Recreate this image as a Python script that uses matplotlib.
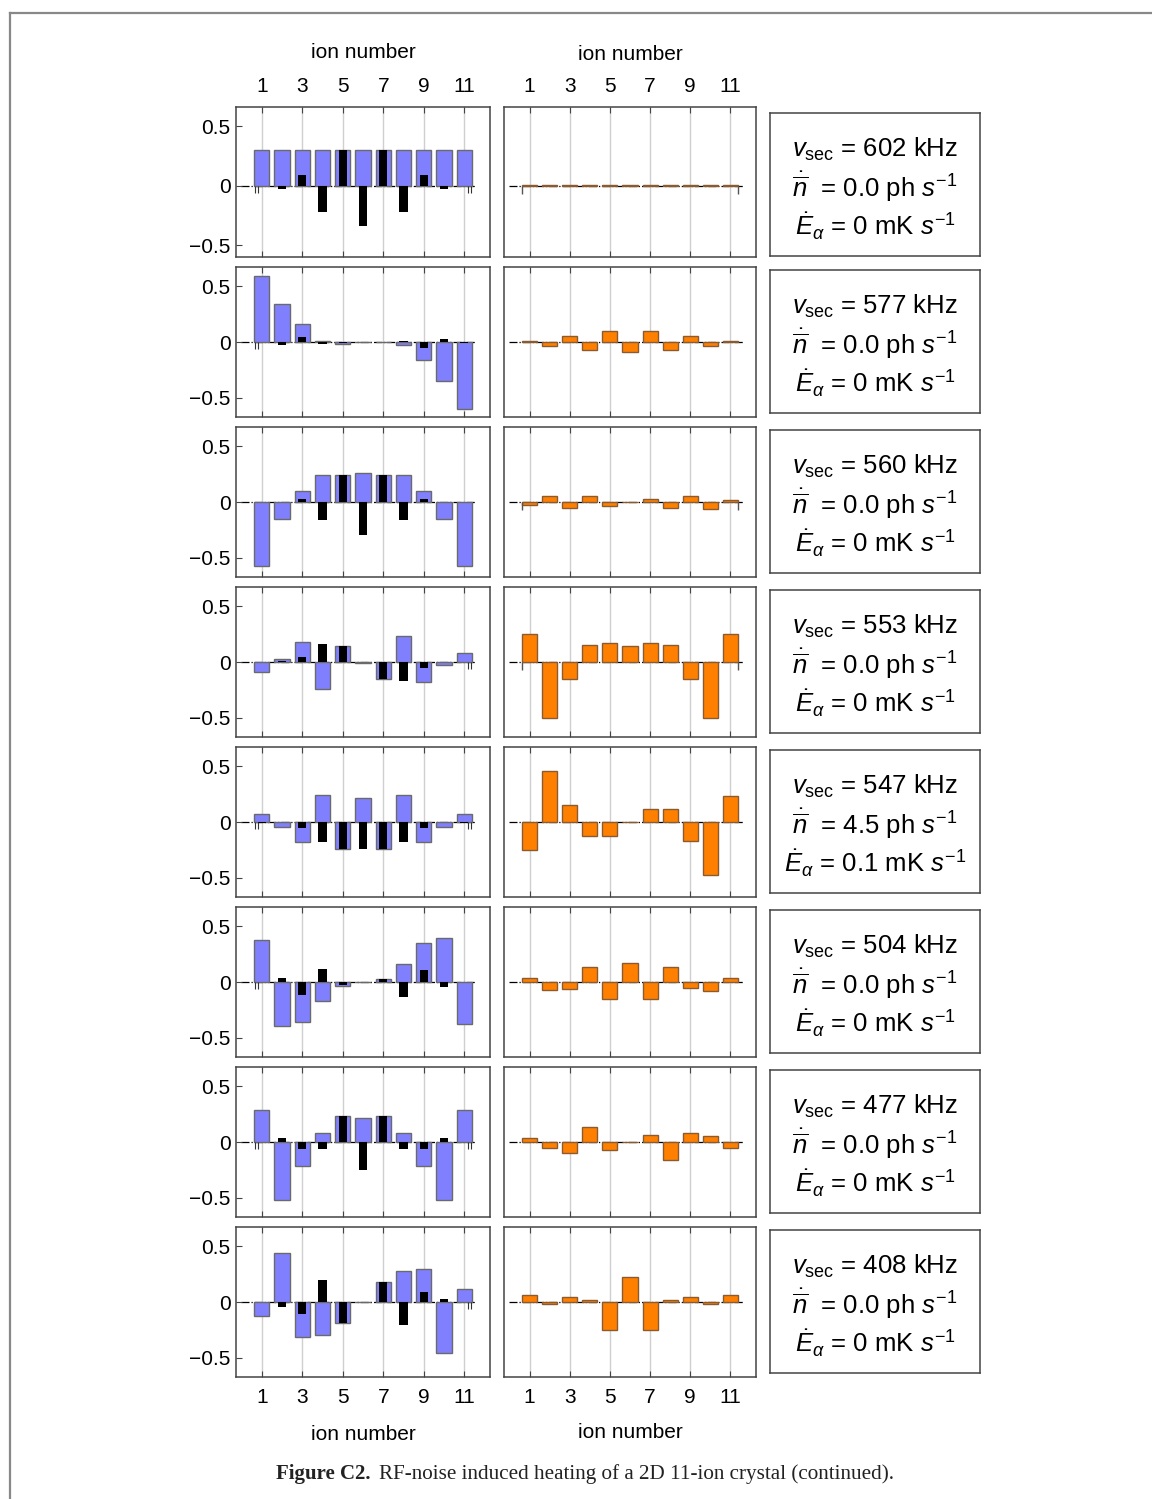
import matplotlib
matplotlib.use("Agg")
import matplotlib.pyplot as plt
from matplotlib.lines import Line2D
import numpy as np

plt.rcParams['font.family'] = ['Liberation Sans', 'DejaVu Sans']
plt.rcParams['mathtext.fontset'] = 'custom'
plt.rcParams['mathtext.rm'] = 'Liberation Sans'
plt.rcParams['mathtext.it'] = 'Liberation Sans:italic'
plt.rcParams['mathtext.bf'] = 'Liberation Sans:bold'

ions = np.arange(1, 12)

# blue = mode vector (radial), black = overlay component, one row per mode
blue_modes = [
    [0.30, 0.30, 0.30, 0.30, 0.30, 0.30, 0.30, 0.30, 0.30, 0.30, 0.30],
    [0.59, 0.343, 0.161, 0.012, -0.015, -0.003, 0.003, -0.027, -0.164, -0.349, -0.60],
    [-0.573, -0.152, 0.10, 0.239, 0.242, 0.263, 0.242, 0.239, 0.10, -0.152, -0.573],
    [-0.087, 0.024, 0.176, -0.239, 0.143, -0.005, -0.155, 0.233, -0.182, -0.03, 0.078],
    [0.075, -0.045, -0.176, 0.245, -0.242, 0.218, -0.242, 0.242, -0.176, -0.045, 0.075],
    [0.376, -0.397, -0.358, -0.173, -0.033, 0.0, 0.024, 0.164, 0.349, 0.39, -0.379],
    [0.287, -0.52, -0.215, 0.078, 0.236, 0.215, 0.236, 0.078, -0.215, -0.52, 0.287],
    [-0.125, 0.442, -0.31, -0.293, -0.185, 0.0, 0.176, 0.278, 0.30, -0.454, 0.119],
]
black_modes = [
    [0.0, -0.025, 0.09, -0.22, 0.30, -0.336, 0.30, -0.22, 0.09, -0.025, 0.0],
    [0.0, -0.03, 0.048, -0.02, -0.01, 0.0, 0.0, 0.012, -0.05, 0.024, -0.005],
    [0.0, 0.003, 0.03, -0.16, 0.242, -0.30, 0.242, -0.16, 0.03, 0.003, 0.0],
    [0.0, 0.01, 0.045, 0.158, 0.143, 0.0, -0.155, -0.167, -0.057, 0.0, 0.0],
    [-0.005, 0.0, -0.057, -0.179, -0.242, -0.242, -0.242, -0.176, -0.057, 0.0, -0.005],
    [0.0, 0.033, -0.119, 0.12, -0.027, 0.0, 0.024, -0.131, 0.11, -0.042, 0.0],
    [0.0, 0.036, -0.066, -0.06, 0.236, -0.248, 0.236, -0.06, -0.066, 0.036, 0.0],
    [0.0, -0.042, -0.104, 0.197, -0.185, 0.0, 0.176, -0.203, 0.09, 0.03, 0.0],
]
orange_modes = [
    [0.004, 0.003, 0.003, 0.003, 0.003, 0.003, 0.003, 0.003, 0.003, 0.003, 0.003],
    [0.012, -0.035, 0.055, -0.07, 0.10, -0.09, 0.10, -0.07, 0.055, -0.035, 0.012],
    [-0.024, 0.057, -0.054, 0.051, -0.039, 0.0, 0.03, -0.051, 0.051, -0.063, 0.021],
    [0.251, -0.501, -0.155, 0.152, 0.170, 0.146, 0.170, 0.152, -0.155, -0.501, 0.251],
    [-0.25, 0.457, 0.152, -0.125, -0.125, 0.0, 0.117, 0.117, -0.17, -0.475, 0.233],
    [0.036, -0.07, -0.06, 0.134, -0.15, 0.17, -0.15, 0.134, -0.054, -0.08, 0.036],
    [0.036, -0.054, -0.10, 0.134, -0.07, 0.0, 0.063, -0.16, 0.08, 0.054, -0.054],
    [0.063, -0.018, 0.045, 0.018, -0.25, 0.224, -0.25, 0.018, 0.045, -0.018, 0.063],
]
freqs = [602, 577, 560, 553, 547, 504, 477, 408]
nbar_dot = ['0.0', '0.0', '0.0', '0.0', '4.5', '0.0', '0.0', '0.0']
e_dot = ['0', '0', '0', '0', '0.1', '0', '0', '0']
ylims = [(-0.60, 0.664)] + [(-0.672, 0.672)] * 7
# little stray marks near ion 1 / ion 11 in the left column
stray_left = [(True, True), (True, False), (False, False), (False, True),
              (True, True), (True, False), (True, True), (False, True)]

W, H = 1152, 1499
fig = plt.figure(figsize=(W / 100, H / 100), dpi=100)

spine_col = '#444444'


def style_ax(ax, r, left_col):
    ax.set_xlim(-0.27, 12.27)
    ax.set_ylim(*ylims[r])
    ax.set_xticks([1, 3, 5, 7, 9, 11])
    if left_col:
        ax.set_yticks([-0.5, 0, 0.5])
        ax.set_yticklabels(['\u22120.5', '0', '0.5'])
    else:
        ax.set_yticks([])
    for x in [1, 3, 5, 7, 9, 11]:
        ax.axvline(x, color='#cfcfcf', lw=1, zorder=0)
    ax.plot([0, 11.6], [0, 0], color='k', ls='-.', lw=0.9, zorder=1)
    ax.tick_params(axis='x', direction='in', top=True, bottom=True, length=4,
                   labeltop=(r == 0), labelbottom=(r == 7), labelsize=15, pad=8,
                   color=spine_col)
    ax.tick_params(axis='y', direction='in', left=True, right=False, length=4,
                   labelsize=15, pad=4, color=spine_col)
    for s in ax.spines.values():
        s.set_color(spine_col)
        s.set_linewidth(1.1)


for r in range(8):
    top = 107 + 160 * r
    bottom = 1 - (top + 150) / H

    ax1 = fig.add_axes([236 / W, bottom, 254 / W, 150 / H])
    style_ax(ax1, r, True)
    ax1.bar(ions, blue_modes[r], width=0.75, color='#8080ff', edgecolor='#6a6a6a',
            lw=1, zorder=2)
    ax1.bar(ions, black_modes[r], width=0.4, color='black', zorder=3)
    lft, rgt = stray_left[r]
    if lft:
        ax1.vlines([0.67, 0.8], -0.06, 0, color='#333333', lw=0.8, zorder=3)
    if rgt:
        ax1.vlines([11.2, 11.33], -0.06, 0, color='#333333', lw=0.8, zorder=3)

    ax2 = fig.add_axes([504 / W, bottom, 252 / W, 150 / H])
    style_ax(ax2, r, False)
    ax2.bar(ions, orange_modes[r], width=0.75, color='#ff8000', edgecolor='#8a5a30',
            lw=1, zorder=2)
    if r in (0, 2, 3):
        ax2.vlines([0.65, 11.35], -0.07, 0, color='#555555', lw=1, zorder=3)

    bt = top + 6 if r == 0 else top + 3
    ax3 = fig.add_axes([770 / W, 1 - (bt + 143) / H, 210 / W, 143 / H])
    ax3.set_xticks([])
    ax3.set_yticks([])
    for s in ax3.spines.values():
        s.set_color(spine_col)
        s.set_linewidth(1.1)
    ax3.text(0.5, 0.745, r'$v_{\rm sec}$ = %d kHz' % freqs[r], ha='center',
             va='center', fontsize=18.5, transform=ax3.transAxes)
    ax3.text(0.5, 0.48, r'$\dot{\overline{n}}$  = %s ph $s^{-1}$' % nbar_dot[r],
             ha='center', va='center', fontsize=18.5, transform=ax3.transAxes)
    ax3.text(0.5, 0.205, r'$\dot{E}_{\alpha}$ = %s mK $s^{-1}$' % e_dot[r],
             ha='center', va='center', fontsize=18.5, transform=ax3.transAxes)

fig.text(363 / W, 1 - 52 / H, 'ion number', ha='center', va='center', fontsize=15)
fig.text(630 / W, 1 - 55 / H, 'ion number', ha='center', va='center', fontsize=15)
fig.text(363 / W, 1 - 1434 / H, 'ion number', ha='center', va='center', fontsize=15)
fig.text(630 / W, 1 - 1432 / H, 'ion number', ha='center', va='center', fontsize=15)

# page border
fig.add_artist(Line2D([10 / W, 1], [1 - 13 / H, 1 - 13 / H], color='#888888', lw=1.6))
fig.add_artist(Line2D([10 / W, 10 / W], [0, 1 - 13 / H], color='#888888', lw=1.6))

fig.text(276 / W, 1 - 1474 / H, 'Figure C2.', family='Liberation Serif',
         weight='bold', fontsize=15, va='center', color='#222222')
fig.text(379 / W, 1 - 1474 / H,
         'RF-noise induced heating of a 2D 11-ion crystal (continued).',
         family='Liberation Serif', fontsize=15.2, va='center', color='#222222')

fig.savefig('out.png', dpi=100)
